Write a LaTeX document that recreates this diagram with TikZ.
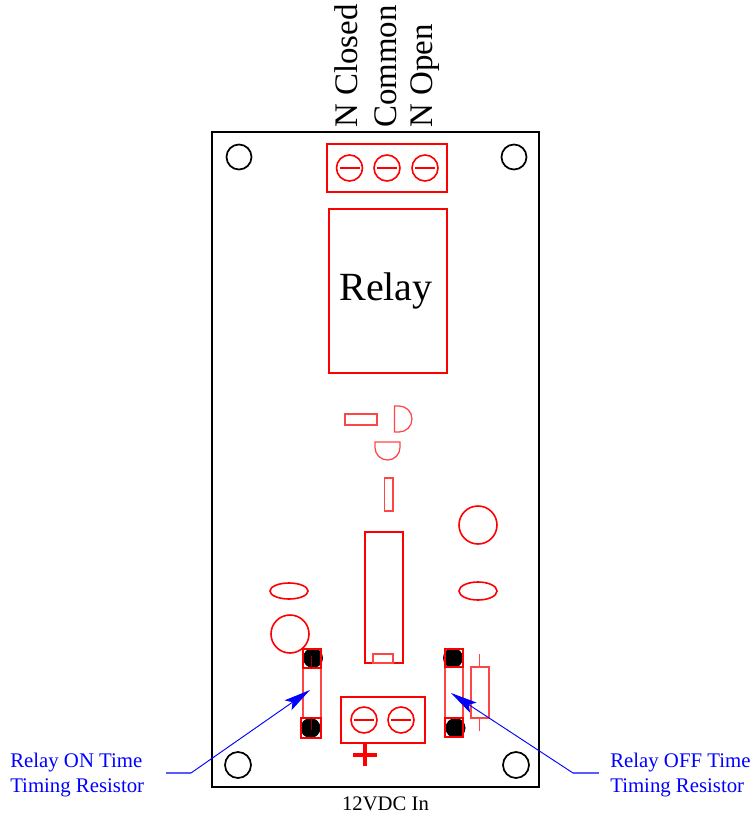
\documentclass[tikz,border=0pt]{standalone}
\usepackage{fontspec}
\setmainfont{Liberation Serif}
\usetikzlibrary{arrows.meta}
\definecolor{pcbred}{RGB}{255,0,0}
\definecolor{pcbpale}{RGB}{255,70,70}
\definecolor{pcbblue}{RGB}{0,0,255}
\definecolor{stubblue}{RGB}{90,90,255}
\tikzset{
  board/.style={draw=black,line width=1.6pt},
  hole/.style={draw=black,line width=1.3pt},
  redthick/.style={draw=pcbred,line width=1.5pt},
  redmid/.style={draw=pcbred,line width=1.2pt},
  redthin/.style={draw=pcbpale,line width=0.95pt},
  padbox/.style={draw=pcbred,line width=1.5pt},
  blob/.style={fill=black,draw=none},
  vlabel/.style={rotate=90,anchor=west,font=\fontsize{24.7pt}{26pt}\selectfont,inner sep=0pt},
  bluelabel/.style={text=pcbblue,anchor=west,align=left,font=\fontsize{15.6pt}{18.75pt}\selectfont,inner sep=0pt},
  leader/.style={draw=pcbblue,line width=0.7pt},
  stub/.style={draw=stubblue,line width=1pt},
  leaderarrow/.style={leader,-{Stealth[length=20pt,width=9pt,inset=4pt]}},
  screw/.pic={\draw[redmid] (0,0) circle (13);
              \draw[redmid] (-10,0) -- (10,0);}
}
\begin{document}
\begin{tikzpicture}[x=0.75pt,y=-0.75pt]
\useasboundingbox (0,0) rectangle (756,818);
% board
\draw[board] (212,132) rectangle (539,787);
\draw[hole] (239,157) circle (12.5);
\draw[hole] (514,157) circle (12.5);
\draw[hole] (238,765) circle (13);
\draw[hole] (516,765) circle (13);
% top terminal
\draw[redthick] (327,144) rectangle (447,192);
\pic at (349.5,168) {screw};
\pic at (387,168) {screw};
\pic at (425,168) {screw};
% relay
\draw[redthick] (329,209) rectangle (447,373);
\node[inner sep=0pt,font=\fontsize{30pt}{32pt}\selectfont] (relay) at (386,291) {Relay};
% terminal labels
\node[vlabel] (nc) at (346.5,128) {N Closed};
\node[vlabel] (com) at (385.5,128) {Common};
\node[vlabel] (no) at (425.5,128) {N Open};
% small parts
\draw[redthin] (345,414) rectangle (377,425);
\draw[redthin] (394.5,406) -- (399,406) arc[start angle=90,end angle=-90,radius=9.75pt] -- (394.5,432) -- cycle;
\draw[redthin] (375,442) -- (400,442) -- (400,447.5) arc[start angle=0,end angle=-180,radius=9.375pt] -- cycle;
\draw[redthin] (384.5,478) rectangle (393,511);
% large parts
\draw[redmid] (478,525) circle (19);
\draw[redmid] (289,591) ellipse [x radius=19,y radius=8];
\draw[redmid] (478,591) ellipse [x radius=19,y radius=9];
\draw[redmid] (290,634) circle (19);
% IC
\draw[redmid] (365,532) rectangle (403,663);
\draw[redthin] (373,654) rectangle (393,663);
% left resistor
\fill[blob] (313,658) circle (10);
\fill[blob] (310.5,728) circle (10);
\draw[redthin] (303,668) rectangle (321,718);
\draw[padbox] (303,649) rectangle (321,668);
\draw[padbox] (301,718) rectangle (321,738);
\draw[draw=pcbred!60!black,line width=0.6pt] (311,656) -- (311,668);
\draw[draw=pcbred!60!black,line width=0.6pt] (311,718) -- (311,730);
% right resistor
\fill[blob] (453,658) circle (10);
\fill[blob] (455.5,728) circle (10);
\draw[redthin] (445,667) rectangle (463,718);
\draw[padbox] (445,649) rectangle (463,667);
\draw[padbox] (445,718) rectangle (463,737);
% small resistor
\draw[redthin] (471,667) rectangle (489,718);
\draw[redthin] (479.5,654) -- (479.5,667);
\draw[redthin] (479.5,718) -- (479.5,731);
% bottom terminal
\draw[redthick] (341,697) rectangle (425,743);
\pic at (364,720) {screw};
\pic at (401,720) {screw};
\draw[draw=pcbred,line width=2.6pt] (365,743) -- (365,766);
\draw[draw=pcbred,line width=2.6pt] (353,755) -- (377,755);
% labels
\node[font=\fontsize{15.5pt}{18pt}\selectfont,inner sep=0pt] (vin) at (385.5,804) {12VDC In};
\node[bluelabel] (onlab) at (10,775) {Relay ON Time\\Timing Resistor};
\node[bluelabel] (offlab) at (610,775) {Relay OFF Time\\Timing Resistor};
% leaders
\coordinate (onstart) at (166,773);
\coordinate (onknee) at (191,773);
\coordinate (ontip) at (310,690);
\coordinate (offstart) at (599,773);
\coordinate (offknee) at (573,773);
\coordinate (offtip) at (451,693);
\draw[stub] (onstart) -- (onknee);
\draw[leaderarrow] (onknee) -- (ontip);
\draw[stub] (offstart) -- (offknee);
\draw[leaderarrow] (offknee) -- (offtip);
\end{tikzpicture}
\end{document}
